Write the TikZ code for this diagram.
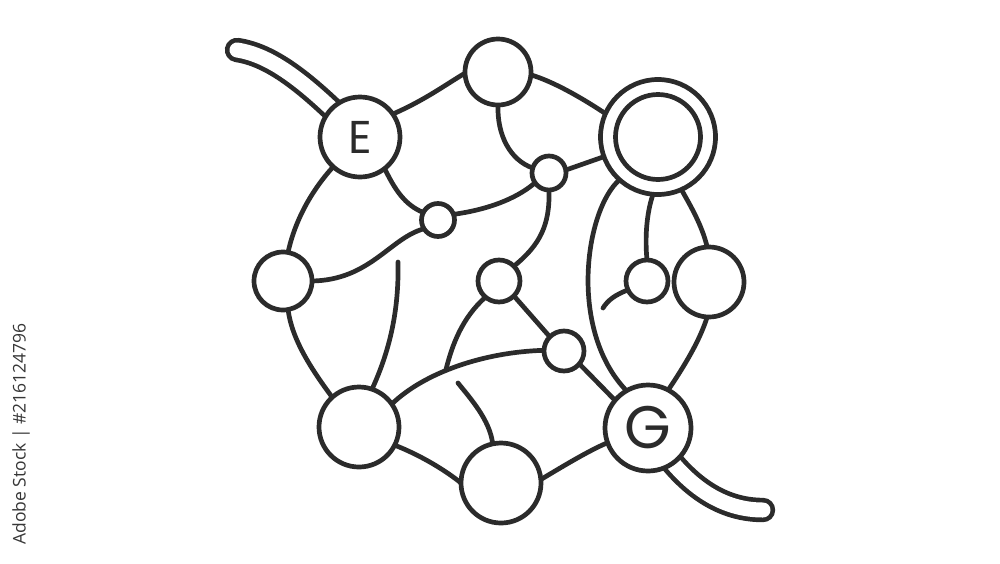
\documentclass[tikz,border=0pt]{standalone}
\usepackage{fontspec}
\newfontfamily\letterfont{Poppins}
\newfontfamily\wmfont{Open Sans}
\usetikzlibrary{backgrounds}
\definecolor{ink}{RGB}{43,43,43}
\definecolor{wmgray}{RGB}{55,55,55}
\begin{document}
\begin{tikzpicture}[x=1pt,y=-1pt,
  nd/.style={circle,draw=ink,fill=white,line width=4.7pt,inner sep=0pt,outer sep=0pt,minimum size=#1},
  ln/.style={draw=ink,line width=4.7pt},
  tube/.style={draw=ink,line width=4.7pt,double=white,double distance=15pt,line cap=round},
  letter/.style={text=ink,font=\letterfont\fontsize{#1}{#1}\selectfont}]
\useasboundingbox (0,0) rectangle (1000,563);

% nodes
\node[nd=80pt,letter=46] (E) at (360,137) {E};
\node[nd=66pt] (T) at (498,72) {};
\node[nd=115pt] (D) at (658,137) {};
\node[nd=85pt] (Di) at (D) {};
\node[nd=34pt] (s1) at (549,173) {};
\node[nd=33pt] (s2) at (438,220) {};
\node[nd=58pt] (L) at (283,281) {};
\node[nd=42pt] (C) at (499,281) {};
\node[nd=40pt] (s3) at (564,351) {};
\node[nd=80pt] (BL) at (359,427) {};
\node[nd=80pt] (B) at (501,483) {};
\node[nd=86pt,letter=60] (G) at (648,428) {G};
\node[nd=70pt] (R) at (709,282) {};
\node[nd=42pt] (s4) at (647,281) {};

\node[rotate=90,text=wmgray,font=\wmfont\fontsize{17.5}{20}\selectfont] (wm) at (21,434) {Adobe Stock | \#216124796};

\coordinate (tE) at (237,50);
\coordinate (tG) at (763,510);
\coordinate (f1) at (398,262);
\coordinate (f2) at (458,383);
\coordinate (f3) at (603,308);

\begin{pgfonlayer}{background}
\fill[white] (0,0) rectangle (1000,563);
% tails
\draw[tube] (tE) .. controls (270,55) and (305,80) .. (E.center);
\draw[tube] (G.center) .. controls (685,490) and (725,510) .. (tG);
% connectors
\draw[ln] (E.35) .. controls (425,100) and (445,85) .. (T.182);
\draw[ln] (T.-5) .. controls (555,82) and (585,100) .. (D.156);
\draw[ln] (T.-90) .. controls (497,135) and (510,160) .. (s1.163);
\draw[ln] (s1.10) -- (D.200);
\draw[ln] (s1.215) .. controls (515,200) and (485,210) .. (s2.20);
\draw[ln] (s1.-90) .. controls (550,225) and (540,245) .. (C.45);
\draw[ln] (E.-52) .. controls (395,190) and (405,205) .. (s2.153);
\draw[ln] (E.228) .. controls (312,190) and (295,220) .. (L.80);
\draw[ln] (s2.212) .. controls (390,238) and (370,280) .. (L.0);
\draw[ln,line cap=round] (f1) .. controls (399,310) and (390,350) .. (BL.71);
\draw[ln] (L.-80) .. controls (292,340) and (312,370) .. (BL.132);
\draw[ln] (BL.35) .. controls (425,372) and (485,352) .. coordinate[pos=0.42] (J) (s3.178);
\draw[ln] (BL.-27) .. controls (420,455) and (445,470) .. (B.180);
\draw[ln] (C.230) .. controls (462,318) and (452,345) .. (J);
\draw[ln,line cap=round] (f2) .. controls (470,398) and (490,420) .. (B.102);
\draw[ln] (C.-45) -- (s3.135);
\draw[ln] (s3.-40) -- (G.140);
\draw[ln] (B.5) .. controls (565,465) and (590,450) .. (G.200);
\draw[ln] (D.228) .. controls (585,210) and (568,330) .. (G.120);
\draw[ln] (D.-95) .. controls (646,215) and (645,240) .. (s4.90);
\draw[ln] (D.-66) .. controls (690,205) and (702,225) .. (R.93);
\draw[ln,line cap=round] (s4.205) .. controls (615,295) and (608,300) .. (f3);
\draw[ln] (R.-93) .. controls (700,340) and (685,365) .. (G.62);
\end{pgfonlayer}
\end{tikzpicture}
\end{document}
